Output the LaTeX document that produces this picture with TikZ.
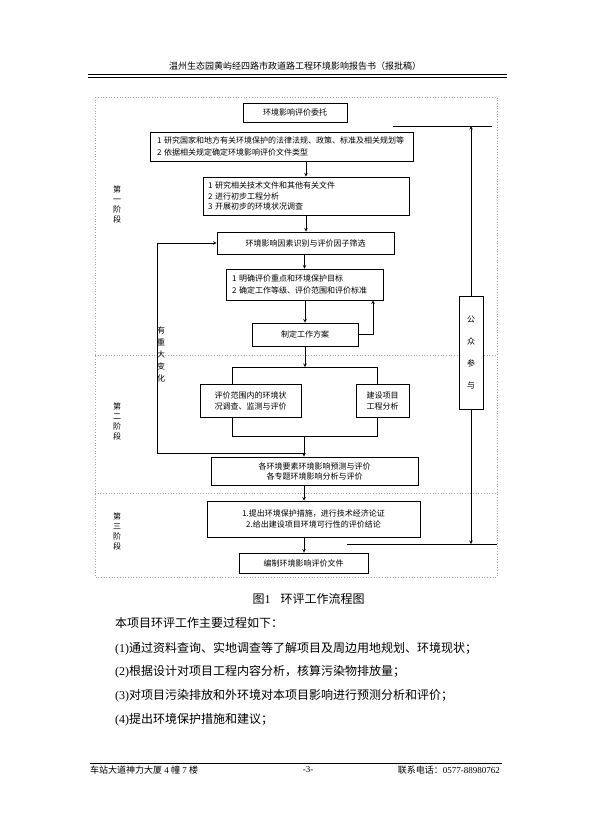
\documentclass[tikz,border=0pt]{standalone}
\usepackage{fontspec}
\setmainfont{Noto Sans CJK SC}
\newfontfamily\lat{Liberation Serif}
\usetikzlibrary{arrows, positioning, calc}

\begin{document}
\begin{tikzpicture}[
    x=1pt, y=-1pt,
    box/.style={rectangle, draw, line width=0.8pt, fill=white, inner sep=0pt, align=center, font=\fontsize{8}{10.5}\selectfont},
    arrow/.style={->, >=stealth, line width=0.6pt},
    conn/.style={line width=0.6pt},
    frame/.style={draw=gray!70, dotted, line width=0.7pt},
    stage/.style={align=center, inner sep=0pt, font=\fontsize{8}{10}\selectfont},
    body/.style={anchor=west, inner sep=0pt, font=\fontsize{12}{14}\selectfont}
]
\useasboundingbox (0,0) rectangle (592,839);

% page header and footer
\node[inner sep=0pt, font=\fontsize{9}{11}\selectfont] (title) at (295,66) {温州生态园黄屿经四路市政道路工程环境影响报告书（报批稿）};
\draw[line width=0.5pt] (88,74) -- (507,74);
\draw[line width=1.6pt] (88,77.5) -- (507,77.5);
\draw[line width=0.5pt] (90,763) -- (502,763);
\node[anchor=west, inner sep=0pt, font=\fontsize{9}{11}\selectfont] (address) at (90,770) {车站大道神力大厦{\lat\ 4 }幢{\lat\ 7 }楼};
\node[inner sep=0pt, font=\fontsize{9}{11}\selectfont] (pageno) at (308,770) {\lat -3-};
\node[anchor=east, inner sep=0pt, font=\fontsize{9}{11}\selectfont] (phone) at (500,770) {联系电话：{\lat 0577-88980762}};

% dotted frame and stages
\draw[frame] (95,97) rectangle (497,577);
\draw[frame] (95,355) -- (497,355);
\draw[frame] (95,493) -- (497,493);
\node[stage] (stage1) at (117,204) {第\\一\\阶\\段};
\node[stage] (stage2) at (117,421.5) {第\\二\\阶\\段};
\node[stage] (stage3) at (117,531) {第\\三\\阶\\段};

% boxes
\node[box, minimum width=104pt, minimum height=19pt] (entrust) at (295,112.5) {环境影响评价委托};
\node[box, minimum height=29pt, text width=249pt, inner xsep=7pt, align=left, font=\fontsize{8}{12}\selectfont] (law) at (281.5,146.5)
    {1 研究国家和地方有关环境保护的法律法规、政策、标准及相关规划等\\2 依据相关规定确定环境影响评价文件类型};
\node[box, minimum height=38pt, text width=196pt, inner xsep=5pt, align=left] (study) at (306,196)
    {1 研究相关技术文件和其他有关文件\\2 进行初步工程分析\\3 开展初步的环境状况调查};
\node[box, minimum width=177pt, minimum height=22pt] (ident) at (305.5,243) {环境影响因素识别与评价因子筛选};
\node[box, minimum height=31pt, text width=145pt, inner xsep=6pt, align=left, font=\fontsize{8}{12}\selectfont] (focus) at (304.5,284.5)
    {1 明确评价重点和环境保护目标\\2 确定工作等级、评价范围和评价标准};
\node[box, minimum width=106pt, minimum height=23pt] (plan) at (305,334.5) {制定工作方案};
\node[box, minimum width=101pt, minimum height=33pt, font=\fontsize{8}{11}\selectfont] (status) at (250.5,400.5) {评价范围内的环境状\\况调查、监测与评价};
\node[box, minimum width=53pt, minimum height=33pt, font=\fontsize{8}{11}\selectfont] (project) at (382.5,400.5) {建设项目\\工程分析};
\node[box, minimum width=207pt, minimum height=28pt, font=\fontsize{8}{10}\selectfont] (predict) at (314.5,471)
    {各环境要素环境影响预测与评价\\各专题环境影响分析与评价};
\node[box, minimum width=213pt, minimum height=36pt, font=\fontsize{8}{11}\selectfont] (measure) at (313.5,519)
    {1.提出环境保护措施，进行技术经济论证\\2.给出建设项目环境可行性的评价结论};
\node[box, minimum width=129pt, minimum height=20pt] (report) at (303.5,563) {编制环境影响评价文件};
\node[box, minimum width=24pt, minimum height=113pt, font=\fontsize{8}{22.3}\selectfont] (pub) at (471,352.5) {公\\众\\参\\与};

% connectors
\coordinate (splitL) at (232,367);
\coordinate (splitR) at (377,367);
\coordinate (split) at (305,367);
\coordinate (joinL) at (232,436);
\coordinate (joinR) at (377,436);
\coordinate (join) at (304,436);
\coordinate (loop) at (304,453);
\coordinate (loopL) at (157,453);
\coordinate (back) at (373,334.5);
\coordinate (topL) at (393,126);
\coordinate (topR) at (492,126);
\coordinate (botL) at (347,544);
\coordinate (botR) at (497,544);

\draw[arrow] (law.south -| study.north) -- (study.north);
\draw[arrow] (study.south) -- (study.south |- ident.north);
\draw[arrow] (ident.south -| focus.north) -- (focus.north);
\draw[arrow] (focus.south -| plan.north) -- (plan.north);
\draw[arrow] (plan.south) -- (split);
\draw[conn] (status.north -| splitL) -- (splitL) -- (splitR) -- (project.north -| splitR);
\draw[conn] (status.south -| joinL) -- (joinL) -- (joinR) -- (project.south -| joinR);
\draw[arrow] (join) -- (join |- predict.north);
\draw[arrow] (loop) -- (loopL) -- (loopL |- ident.west) -- (ident.west);
\node[stage, font=\fontsize{8}{11.8}\selectfont] (change) at (161,354.5) {有\\重\\大\\变\\化};
\draw[arrow] (plan.east) -- (back) -- (back |- focus.south);
\draw[arrow] (predict.south -| join) -- (measure.north -| join);
\draw[arrow] (measure.south -| join) -- (report.north -| join);
\draw[conn] (topL) -- (topR);
\draw[arrow] (pub.north) -- (pub.north |- topL);
\draw[conn] (botL) -- (botR);
\draw[arrow] (pub.south) -- (pub.south |- botL);

% caption and text
\node[inner sep=0pt, font=\fontsize{12}{14}\selectfont] (caption) at (308.5,599) {图{\lat 1}\hspace{10pt}环评工作流程图};
\node[body] (line0) at (115,623) {本项目环评工作主要过程如下：};
\node[body] (line1) at (115,649) {{\lat (1)}通过资料查询、实地调查等了解项目及周边用地规划、环境现状；};
\node[body] (line2) at (115,672) {{\lat (2)}根据设计对项目工程内容分析，核算污染物排放量；};
\node[body] (line3) at (115,696) {{\lat (3)}对项目污染排放和外环境对本项目影响进行预测分析和评价；};
\node[body] (line4) at (115,720) {{\lat (4)}提出环境保护措施和建议；};

\end{tikzpicture}
\end{document}
